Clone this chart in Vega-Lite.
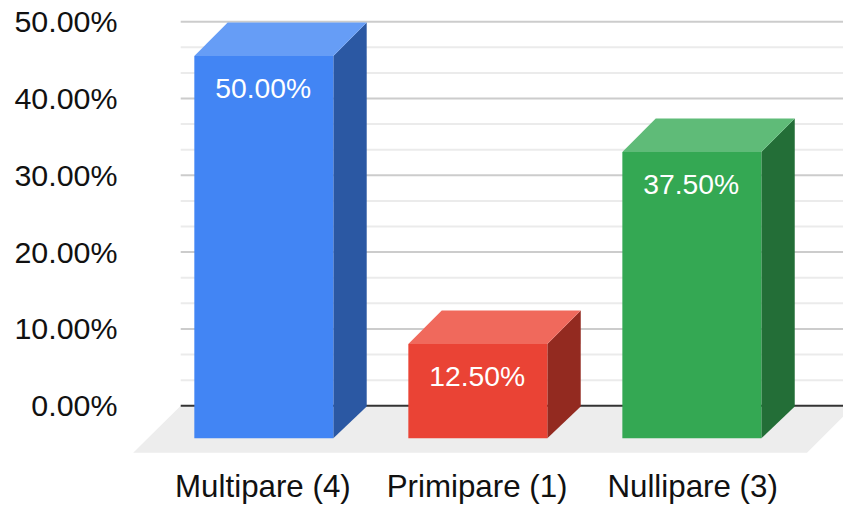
{
  "$schema": "https://vega.github.io/schema/vega-lite/v6.json",
  "width": 843,
  "height": 510,
  "padding": 0,
  "autosize": {"type": "none"},
  "background": "#ffffff",
  "config": {"view": {"stroke": null}, "font": "Liberation Sans"},
  "data": {"values": [
    {"category": "Multipare (4)", "value": 0.5},
    {"category": "Primipare (1)", "value": 0.125},
    {"category": "Nullipare (3)", "value": 0.375}
  ]},
  "transform": [
    {"calculate": "indexof(['Multipare (4)','Primipare (1)','Nullipare (3)'], datum.category)", "as": "slot"},
    {"calculate": "datum.value - 0.001", "as": "back"},
    {"calculate": "datum.back - 0.0435", "as": "front"},
    {"calculate": "-0.04245", "as": "base"}
  ],
  "resolve": {"scale": {"color": "independent"}},
  "layer": [
    {
      "data": {"values": [
        {"x": -0.2856, "low": -0.0613, "high": -0.0613},
        {"x": -0.0636, "low": -0.0613, "high": 0},
        {"x": 2.863, "low": -0.0613, "high": 0},
        {"x": 3.083, "low": 0, "high": 0}
      ]},
      "mark": {"type": "area", "color": "#ededed", "orient": "vertical", "clip": true},
      "encoding": {
        "x": {"field": "x", "type": "quantitative", "scale": {"domain": [-0.908, 3.031], "nice": false, "zero": false},
          "axis": {"title": null, "orient": "bottom", "offset": -23, "domain": false, "ticks": false, "grid": false, "labelPadding": 0, "labelLimit": 400,
            "values": [0.318, 1.319, 2.326], "labelBaseline": "middle", "labelFontSize": 31.3, "labelColor": "#111111", "labelFont": "Liberation Sans", "labelOverlap": false, "labelFlush": false,
            "labelExpr": "['Multipare (4)','Primipare (1)','Nullipare (3)'][floor(datum.value)]"}},
        "y": {"field": "low", "type": "quantitative", "stack": null, "scale": {"domain": [-0.1358, 0.5283], "nice": false, "zero": false},
          "axis": {"title": null, "orient": "left", "offset": -117, "domain": false, "ticks": false, "grid": false, "labelPadding": 0, "labelLimit": 400,
            "values": [0, 0.1, 0.2, 0.3, 0.4, 0.5], "format": ".2%", "labelFontSize": 30.4, "labelOffset": 1, "labelColor": "#111111", "labelFont": "Liberation Sans", "labelOverlap": false, "labelFlush": false}},
        "y2": {"field": "high"}
      }
    },
    {
      "data": {"values": [
        {"tick": 0.0333}, {"tick": 0.0667}, {"tick": 0.1333}, {"tick": 0.1667}, {"tick": 0.2333}, {"tick": 0.2667},
        {"tick": 0.3333}, {"tick": 0.3667}, {"tick": 0.4333}, {"tick": 0.4667}
      ]},
      "mark": {"type": "rule", "color": "#ebebeb", "strokeWidth": 2},
      "encoding": {
        "x": {"datum": -0.0636, "type": "quantitative"},
        "x2": {"datum": 3.031},
        "y": {"field": "tick", "type": "quantitative"}
      }
    },
    {
      "data": {"values": [{"tick": 0.1}, {"tick": 0.2}, {"tick": 0.3}, {"tick": 0.4}, {"tick": 0.5}]},
      "mark": {"type": "rule", "color": "#cccccc", "strokeWidth": 2},
      "encoding": {
        "x": {"datum": -0.0636, "type": "quantitative"},
        "x2": {"datum": 3.031},
        "y": {"field": "tick", "type": "quantitative"}
      }
    },
    {
      "data": {"values": [{"tick": 0}]},
      "mark": {"type": "rule", "color": "#333333", "strokeWidth": 2},
      "encoding": {
        "x": {"datum": -0.0636, "type": "quantitative"},
        "x2": {"datum": 3.031},
        "y": {"field": "tick", "type": "quantitative"}
      }
    },
    {
      "transform": [
        {"calculate": "[0,1]", "as": "corner"},
        {"flatten": ["corner"]},
        {"calculate": "datum.slot + 0.6495 + datum.corner * 0.156", "as": "sx"},
        {"calculate": "datum.corner == 1 ? datum.base + 0.0415 : datum.base", "as": "low"},
        {"calculate": "datum.corner == 1 ? datum.back : datum.front", "as": "high"}
      ],
      "mark": {"type": "area", "orient": "vertical"},
      "encoding": {
        "x": {"field": "sx", "type": "quantitative"},
        "y": {"field": "low", "type": "quantitative", "stack": null},
        "y2": {"field": "high"},
        "color": {"field": "category", "type": "nominal", "legend": null,
          "scale": {"domain": ["Multipare (4)", "Primipare (1)", "Nullipare (3)"], "range": ["#2b58a3", "#932a20", "#236e37"]}}
      }
    },
    {
      "transform": [
        {"calculate": "[0,1,2,3]", "as": "corner"},
        {"flatten": ["corner"]},
        {"calculate": "datum.slot + [0, 0.156, 0.6495, 0.8055][datum.corner]", "as": "sx"},
        {"calculate": "datum.corner == 3 ? datum.back : datum.front", "as": "low"},
        {"calculate": "datum.corner == 0 ? datum.front : datum.back", "as": "high"}
      ],
      "mark": {"type": "area", "orient": "vertical"},
      "encoding": {
        "x": {"field": "sx", "type": "quantitative"},
        "y": {"field": "low", "type": "quantitative", "stack": null},
        "y2": {"field": "high"},
        "color": {"field": "category", "type": "nominal", "legend": null,
          "scale": {"domain": ["Multipare (4)", "Primipare (1)", "Nullipare (3)"], "range": ["#669df6", "#f0695c", "#5fbb78"]}}
      }
    },
    {
      "transform": [{"calculate": "datum.slot + 0.6495", "as": "sx2"}],
      "mark": {"type": "rect"},
      "encoding": {
        "x": {"field": "slot", "type": "quantitative"},
        "x2": {"field": "sx2"},
        "y": {"field": "front", "type": "quantitative"},
        "y2": {"field": "base"},
        "color": {"field": "category", "type": "nominal", "legend": null,
          "scale": {"domain": ["Multipare (4)", "Primipare (1)", "Nullipare (3)"], "range": ["#4285f4", "#ea4335", "#34a853"]}}
      }
    },
    {
      "transform": [{"calculate": "datum.slot + 0.322", "as": "cx"}],
      "mark": {"type": "text", "color": "#ffffff", "fontSize": 28.3, "font": "Liberation Sans", "dy": 34.5, "baseline": "middle", "align": "center"},
      "encoding": {
        "x": {"field": "cx", "type": "quantitative"},
        "y": {"field": "front", "type": "quantitative"},
        "text": {"field": "value", "type": "quantitative", "format": ".2%"}
      }
    }
  ]
}
